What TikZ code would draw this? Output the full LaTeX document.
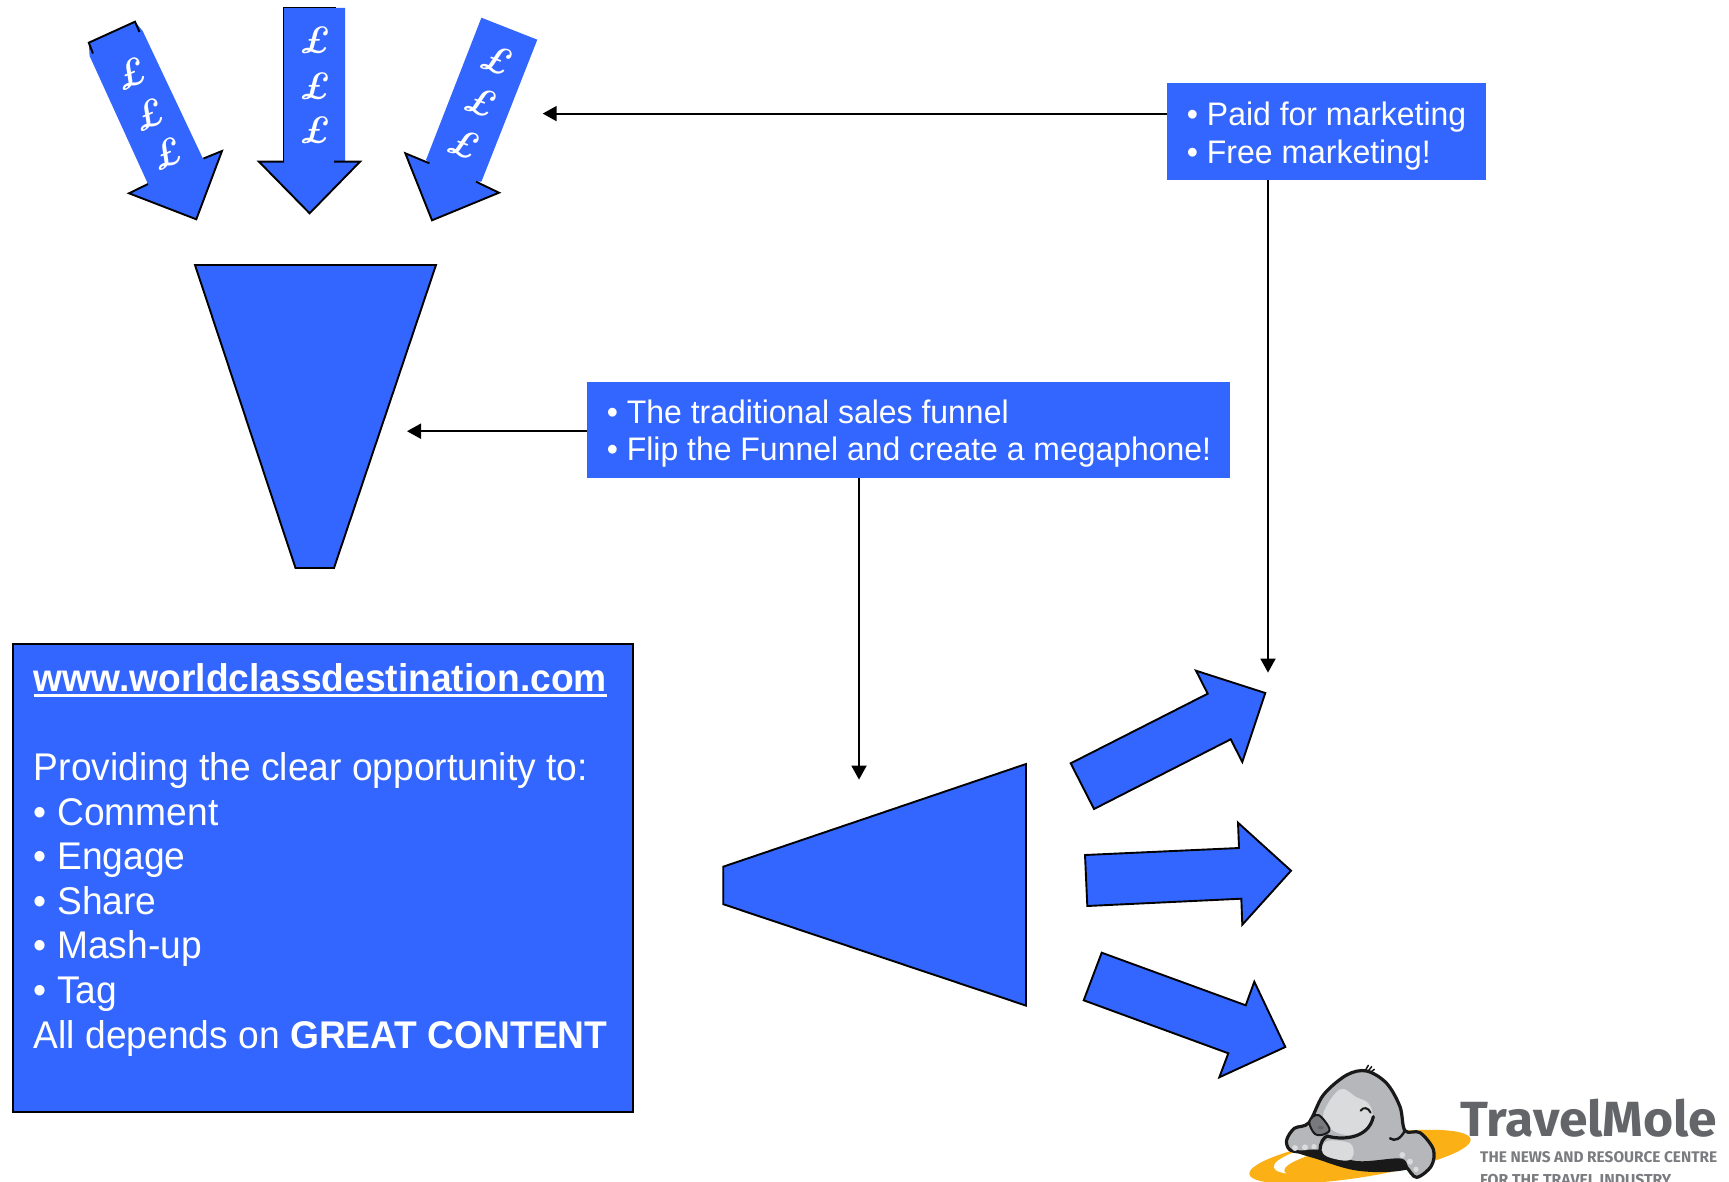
\documentclass[tikz,border=0pt]{standalone}
\usepackage{fontspec}
\usepackage{graphicx}
\setmainfont{Liberation Sans}
\newfontfamily\bigtextfont{Liberation Sans}[FakeStretch=0.963]
\newfontfamily\smalltextfont{Liberation Sans}[FakeStretch=0.98]
\newfontface\lmit{lmroman10-bolditalic}[Extension=.otf]
\newfontfamily\logofont{Fira Sans}
\usetikzlibrary{arrows.meta}
\definecolor{bl}{HTML}{3366FF}
\definecolor{molegrey}{HTML}{B5B7BA}
\definecolor{molelight}{HTML}{D9DBDD}
\definecolor{molenose}{HTML}{77797C}
\definecolor{molegold}{HTML}{FBB016}
\definecolor{logotext}{HTML}{636569}
\definecolor{logosub}{HTML}{7A7C7F}
\newcommand\thickul[1]{\setbox0=\hbox{#1}\rlap{\rule[-5.7pt]{\wd0}{2.7pt}}\box0 }
\tikzset{
  shapeline/.style={draw=black,line width=1.9pt,line join=miter,fill=bl},
  edgeline/.style={draw=black,line width=1.9pt,line join=miter},
  bluefill/.style={fill=bl},
  conn/.style={draw=black,line width=1.9pt,-{Triangle[length=14pt,width=15pt]}},
  smallbox/.style={fill=bl,text=white,inner sep=0pt,align=flush left,anchor=north west,font=\fontsize{32.6}{37.6}\smalltextfont},
  bigbox/.style={fill=bl,draw=black,line width=1.9pt,text=white,inner sep=0pt,align=flush left,anchor=north west,font=\fontsize{38.6}{44.6}\bigtextfont},
  pound/.style={text=white,inner sep=0pt,font=\fontsize{38}{38}\selectfont\lmit},
  moleline/.style={draw=black!90,line width=3.2pt,line join=round,line cap=round},
}
\begin{document}
\begin{tikzpicture}[x=1pt,y=-1pt]
\useasboundingbox (0,0) rectangle (1729,1182);
\fill[white] (0,0) rectangle (1729,1182);

% coordinates for connector ends
\coordinate (tipA) at (542.7,113.6);
\coordinate (tipB) at (1268,672.6);
\coordinate (tipC) at (407,431.2);
\coordinate (tipD) at (859,779.6);

% money arrows
\fill[bluefill] (88.8,42.7)--(135,21.7)--(142.7,31)--(202.8,158.3)--(222,151)--(196.3,219.3)--(129,193.3)--(148,184)--(89.6,56)--cycle;
\draw[edgeline] (93,53.5)--(88.8,42.7)--(135,21.7)--(139.5,32);
\draw[edgeline] (203.5,158.5)--(222,151)--(196.3,219.3)--(129,193.3)--(148,184);

\fill[bluefill] (283.6,8)--(345.2,8)--(345.2,161.7)--(360,161.7)--(309.6,213.3)--(259,161.7)--(283.6,161.7)--cycle;
\draw[edgeline,line width=1pt] (283.6,7.5)--(335.6,7.5);
\draw[edgeline,line width=1pt] (283.6,7.5)--(283.6,161.7);
\draw[edgeline] (284,161.7)--(259,161.7)--(309.6,213.3)--(360,161.7)--(334,161.7);

\fill[bluefill] (481.4,17.7)--(537.3,39.7)--(481.4,181.7)--(476,181.7)--(499,192.7)--(432,220.3)--(405.3,153.3)--(429.4,163.3)--(426,160)--cycle;
\draw[edgeline] (429.4,163.3)--(405.3,153.3)--(432,220.3)--(499,192.7)--(476,181.7);

\node[pound,rotate=23] (p1) at (130.5,74) {£};
\node[pound,rotate=23] (p2) at (148.5,115) {£};
\node[pound,rotate=23] (p3) at (166.8,154.3) {£};
\node[pound] (p4) at (315,40.7) {£};
\node[pound] (p5) at (315,86) {£};
\node[pound] (p6) at (315,130) {£};
\node[pound,rotate=-20] (p7) at (497,59.7) {£};
\node[pound,rotate=-20] (p8) at (480.6,101.7) {£};
\node[pound,rotate=-20] (p9) at (464,143.3) {£};

% funnel and megaphone
\draw[shapeline] (195,265)--(436,265)--(334,568)--(295.5,568)--cycle;
\draw[shapeline] (723.2,866.7)--(1026,764)--(1026,1005.6)--(723.2,904.2)--cycle;

% out arrows
\draw[shapeline] (1070.7,763.3)--(1207.7,693.7)--(1196,670.7)--(1265.3,693)--(1242.3,762)--(1230.7,739.3)--(1094,809)--cycle;
\draw[shapeline] (1085,855)--(1239,848)--(1238,822.7)--(1291,870.7)--(1242.3,924.7)--(1241.3,898.7)--(1087.3,906)--cycle;
\draw[shapeline] (1101.7,952.7)--(1245.7,1005.3)--(1254.3,981.7)--(1285.3,1047)--(1219.3,1077.3)--(1228.3,1053.3)--(1083.7,1000.3)--cycle;

% text boxes
\node[smallbox,minimum width=318.6pt,minimum height=97pt,text width=278.6pt] (paid) at (1166.7,82.7)
  {\rule{0pt}{32.9pt}\mbox{• Paid for marketing}\\[0.7pt]\mbox{• Free marketing!}};
\node[smallbox,minimum width=643pt,minimum height=96pt,text width=603pt] (flip) at (586.6,381.5)
  {\rule{0pt}{31.7pt}\mbox{• The traditional sales funnel}\\\mbox{• Flip the Funnel and create a megaphone!}};
\node[bigbox,minimum width=620pt,minimum height=468pt,text width=578pt] (site) at (12,643)
  {\mbox{\bfseries\thickul{www.worldclassdestination.com}}\\
   ~\\
   \mbox{Providing the clear opportunity to:}\\
   • Comment\\
   • Engage\\
   • Share\\
   • Mash-up\\
   • Tag\\
   \mbox{All depends on \textbf{GREAT CONTENT}}\\
   ~};

% connectors
\draw[conn] (paid.west |- tipA) -- (tipA);
\draw[conn] (paid.south -| tipB) -- (tipB);
\draw[conn] (flip.west |- tipC) -- (tipC);
\draw[conn] (flip.south -| tipD) -- (tipD);

% logo
\begin{scope}[shift={(1240,1060)},x=0.3333pt,y=-0.3333pt]
  \fill[molegold,rotate around={9:(360,290)}] (360,290) ellipse (336 and 62);
  \fill[white,rotate around={10:(310,285)}] (310,285) ellipse (212 and 46);
  \fill[molegold,rotate around={10:(320,300)}] (320,300) ellipse (190 and 40);
  \fill[black!90] plot[smooth cycle,tension=.6] coordinates {(165,270)(240,300)(340,330)(440,336)(515,322)(480,285)(300,250)};
  \filldraw[moleline,fill=molegrey] plot[smooth cycle,tension=.55] coordinates
    {(148,268)(140,240)(163,205)(207,188)(250,105)(320,45)(380,33)(440,70)(480,140)(495,212)(540,218)(580,268)(574,318)(530,352)(500,322)(478,300)(350,308)(240,275)(180,276)};
  \fill[molelight] plot[smooth cycle,tension=.6] coordinates {(250,160)(300,88)(350,112)(385,130)(398,170)(370,212)(320,225)(270,205)};
  \fill[molelight] plot[smooth cycle,tension=.6] coordinates {(245,268)(265,242)(330,250)(340,285)(320,302)(262,290)};
  \filldraw[moleline,line width=2pt,fill=molenose] plot[smooth cycle,tension=.6] coordinates {(208,185)(235,165)(268,205)(255,222)(225,222)};
  \draw[moleline] (240,270) .. controls (240,250) and (250,232) .. (262,228) .. controls (300,240) and (385,240) .. (400,170);
  \draw[moleline,line width=2pt] (362,152) .. controls (370,140) and (385,142) .. (392,158);
  \draw[moleline,line width=1.5pt] (375,33)--(385,16) (383,35)--(395,20) (390,38)--(403,28);
  \draw[moleline,line width=2.4pt] (450,235) .. controls (465,245) and (480,238) .. (495,212);
  \fill[molelight] (165,264) circle (9) (195,262) circle (9) (222,260) circle (8);
  \fill[molelight] (487,285) circle (9) (510,305) circle (9) (528,328) circle (8);
  \fill[black!60] (242,203) ellipse (9 and 5);
\end{scope}
\node[inner sep=0pt,anchor=south west,text=logotext] (logoname) at (1460,1137.5)
  {\resizebox{257pt}{37.5pt}{\logofont\bfseries TravelMole}};
\node[inner sep=0pt,anchor=base west,text=logosub] (logoline1) at (1480,1162)
  {\resizebox{237pt}{!}{\logofont\bfseries THE NEWS AND RESOURCE CENTRE}};
\node[inner sep=0pt,anchor=base west,text=logosub] (logoline2) at (1480,1185)
  {\resizebox{191pt}{!}{\logofont\bfseries FOR THE TRAVEL INDUSTRY}};
\end{tikzpicture}
\end{document}
